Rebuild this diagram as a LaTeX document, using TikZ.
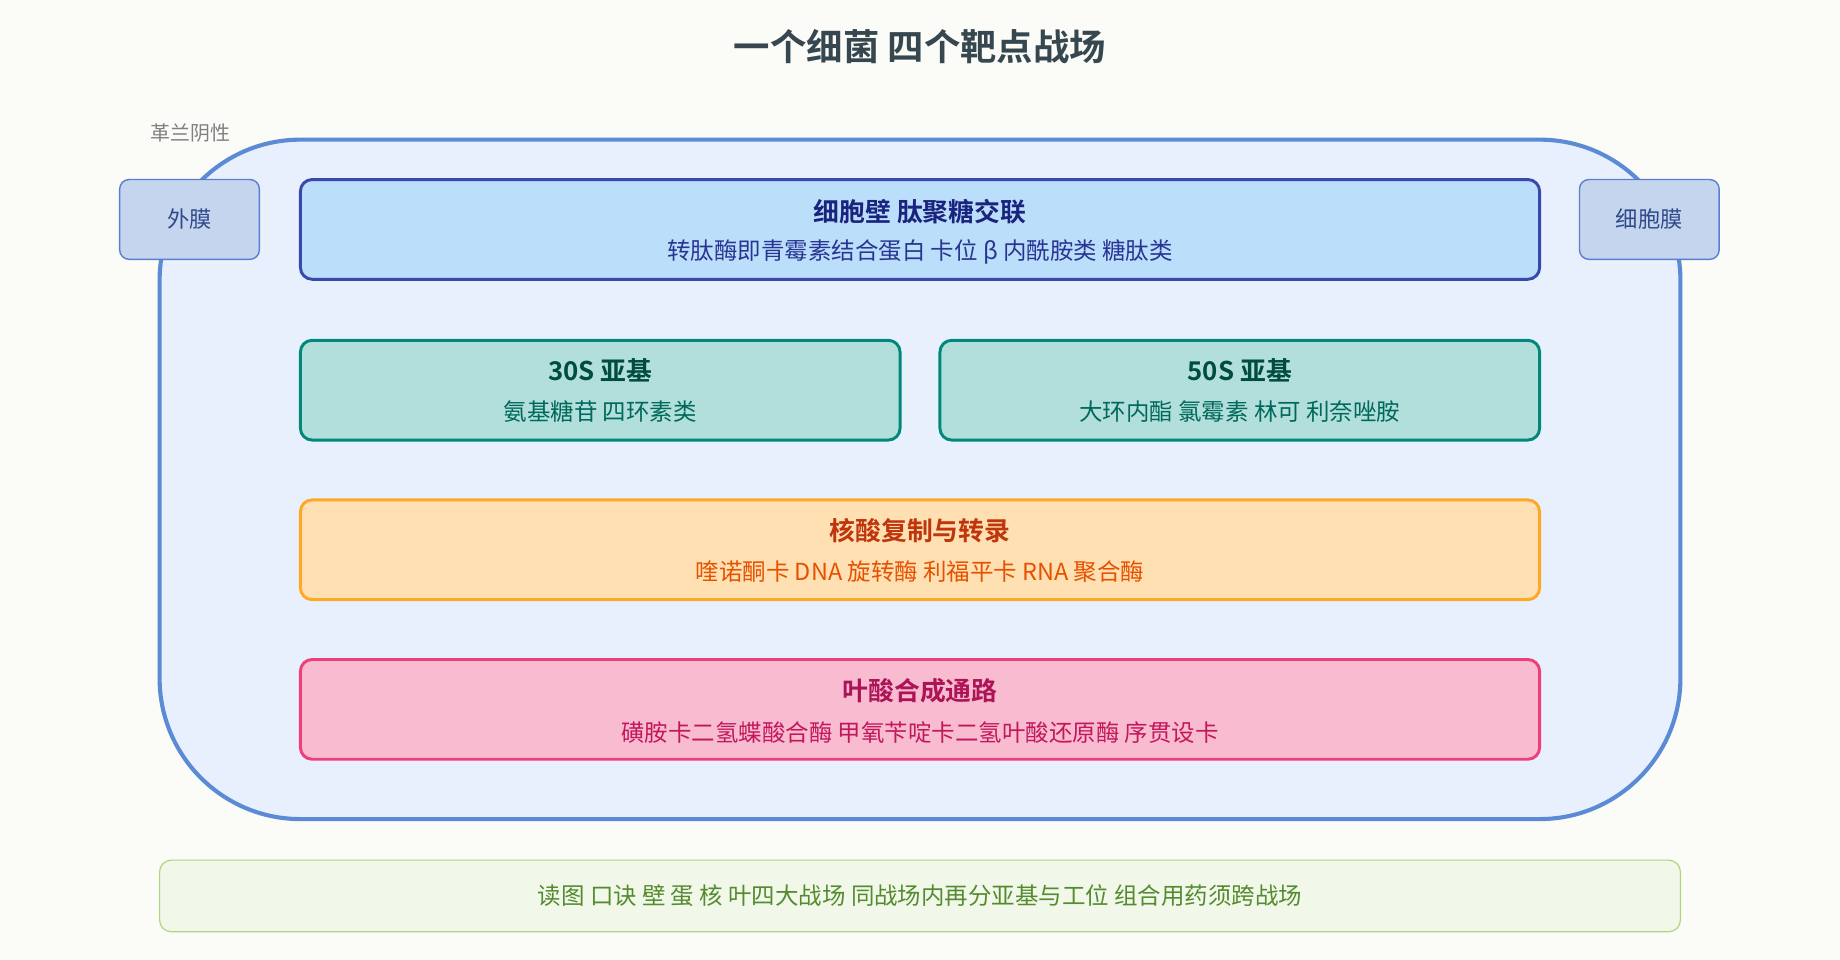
\documentclass[tikz,border=0pt]{standalone}
\usepackage{fontspec}
\setmainfont{Noto Sans CJK SC}[BoldFont=Noto Sans CJK SC Bold]
\usetikzlibrary{positioning}
\definecolor{bgpage}{HTML}{FBFBF8}
\definecolor{cellfill}{HTML}{E8F0FE}
\definecolor{celldraw}{HTML}{5B8BD4}
\definecolor{memfill}{HTML}{C5D5EE}
\definecolor{memdraw}{HTML}{5B7FD0}
\definecolor{memtext}{HTML}{2F4A8A}
\definecolor{wallfill}{HTML}{BBDEFB}
\definecolor{walldraw}{HTML}{3949AB}
\definecolor{walltitle}{HTML}{1A237E}
\definecolor{walltext}{HTML}{283593}
\definecolor{ribofill}{HTML}{B2DFDB}
\definecolor{ribodraw}{HTML}{00897B}
\definecolor{ribotitle}{HTML}{004D40}
\definecolor{ribotext}{HTML}{00695C}
\definecolor{nucfill}{HTML}{FFE0B2}
\definecolor{nucdraw}{HTML}{FFA726}
\definecolor{nuctitle}{HTML}{BF360C}
\definecolor{nuctext}{HTML}{E65100}
\definecolor{folfill}{HTML}{F8BBD0}
\definecolor{foldraw}{HTML}{EC407A}
\definecolor{foltitle}{HTML}{AD1457}
\definecolor{foltext}{HTML}{C2185B}
\definecolor{memofill}{HTML}{F1F8E9}
\definecolor{memodraw}{HTML}{AED581}
\definecolor{memotext}{HTML}{558B2F}
\definecolor{titletext}{HTML}{37474F}
\tikzset{
  zone/.style={draw, line width=2.5pt, rounded corners=10pt, minimum width=1056pt, minimum height=85pt},
  half/.style={zone, minimum width=511pt},
  mem/.style={draw=memdraw, fill=memfill, line width=1.2pt, rounded corners=8pt,
    minimum width=119pt, minimum height=68pt, text=memtext, font=\fontsize{19}{21}\selectfont},
  ttl/.style={font=\bfseries\fontsize{22}{25}\selectfont},
  sub/.style={font=\fontsize{20}{23}\selectfont}
}
\begin{document}
\begin{tikzpicture}[x=1pt,y=-1pt]
  \fill[bgpage] (0,0) rectangle (1568,818);
  \useasboundingbox (0,0) rectangle (1568,818);

  % titel
  \node[font=\bfseries\fontsize{31}{35}\selectfont, text=titletext] (title) at (784,40) {一个细菌 四个靶点战场};
  \node[font=\fontsize{17}{19}\selectfont, text=gray] (gram) at (162,113) {革兰阴性};

  % bacterie
  \draw[celldraw, fill=cellfill, line width=3.5pt, rounded corners=120pt] (136,119) rectangle (1432,698);
  \node[mem] (om) at (161.5,187) {外膜};
  \node[mem] (cm) at (1405.5,187) {细胞膜};

  % celwand
  \node[zone, draw=walldraw, fill=wallfill] (wall) at (784,195.5) {};
  \node[ttl, text=walltitle] (wallT) at (784,180) {细胞壁 肽聚糖交联};
  \node[sub, text=walltext] (wallS) at (784,215) {转肽酶即青霉素结合蛋白 卡位 β 内酰胺类 糖肽类};

  % ribosoom
  \node[half, draw=ribodraw, fill=ribofill] (s30) at (511.5,332.5) {};
  \node[ttl, text=ribotitle] (s30T) at (511.5,316) {30S 亚基};
  \node[sub, text=ribotext] (s30S) at (511.5,351) {氨基糖苷 四环素类};
  \node[half, draw=ribodraw, fill=ribofill] (s50) at (1056.5,332.5) {};
  \node[ttl, text=ribotitle] (s50T) at (1056.5,316) {50S 亚基};
  \node[sub, text=ribotext] (s50S) at (1056.5,351) {大环内酯 氯霉素 林可 利奈唑胺};

  % nucleinezuur
  \node[zone, draw=nucdraw, fill=nucfill] (nuc) at (784,468.5) {};
  \node[ttl, text=nuctitle] (nucT) at (784,452) {核酸复制与转录};
  \node[sub, text=nuctext] (nucS) at (784,487) {喹诺酮卡 DNA 旋转酶 利福平卡 RNA 聚合酶};

  % folaat
  \node[zone, draw=foldraw, fill=folfill] (fol) at (784,604.5) {};
  \node[ttl, text=foltitle] (folT) at (784,589) {叶酸合成通路};
  \node[sub, text=foltext] (folS) at (784,624) {磺胺卡二氢蝶酸合酶 甲氧苄啶卡二氢叶酸还原酶 序贯设卡};

  % ezelsbruggetje
  \node[draw=memodraw, fill=memofill, line width=1pt, rounded corners=10pt,
    minimum width=1296pt, minimum height=61pt, text=memotext, font=\fontsize{20}{23}\selectfont]
    (memo) at (784,763.5) {读图 口诀 壁 蛋 核 叶四大战场 同战场内再分亚基与工位 组合用药须跨战场};
\end{tikzpicture}
\end{document}
